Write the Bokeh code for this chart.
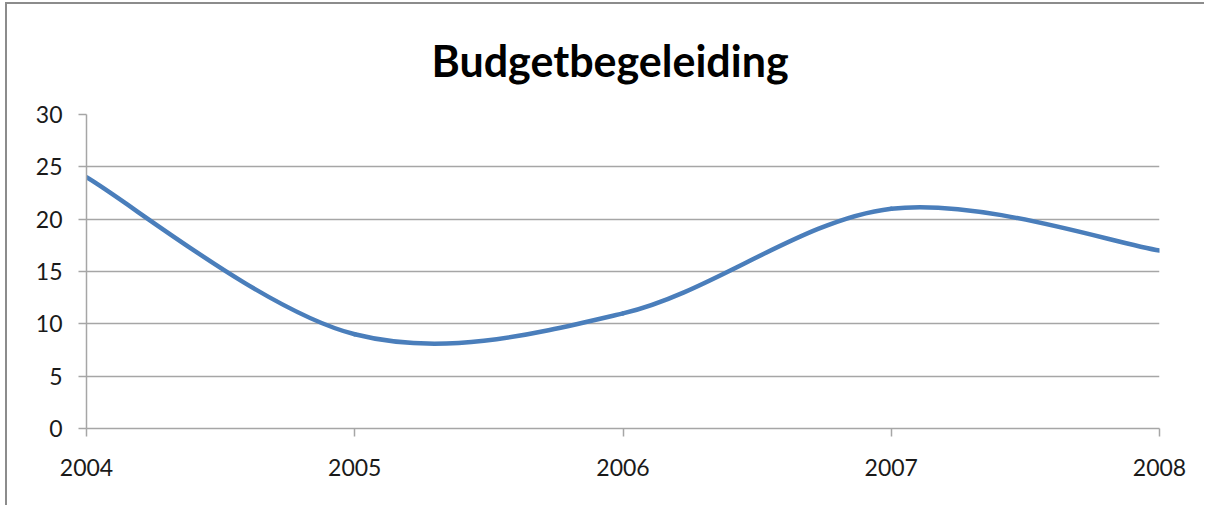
import numpy as np
from bokeh.plotting import figure
from bokeh.models import Range1d, FixedTicker
from bokeh.embed import file_html
from bokeh.resources import INLINE

# ---- data ----
years = [2004, 2005, 2006, 2007, 2008]
values = [24, 9, 11, 21, 17]
y_ticks = [0, 5, 10, 15, 20, 25, 30]
title_text = "Budgetbegeleiding"

FONT = "Lato"
GRID = "#a6a6a6"

FW, FH = 1073, 314
BL, BR, BT, BB = 79, 45, 108, 77

p = figure(
    frame_width=FW, frame_height=FH,
    min_border_left=BL, min_border_right=BR, min_border_top=BT, min_border_bottom=BB,
    x_range=Range1d(2004, 2008), y_range=Range1d(0, 30),
    output_backend="svg", toolbar_location=None,
)
p.styles = {"border-left": "2px solid #8c8c8c", "border-top": "2px solid #8c8c8c",
            "margin-left": "5px", "margin-top": "2px"}
p.outline_line_color = None
p.background_fill_color = "white"
p.border_fill_color = "white"

p.title.text = title_text
p.title.align = "left"
p.title.offset = 345
p.title.text_font = FONT
p.title.text_font_style = "bold"
p.title.text_font_size = "43px"
p.title.text_color = "black"
p.title.standoff = 57

# axes
p.xaxis.ticker = FixedTicker(ticks=years)
p.yaxis.ticker = FixedTicker(ticks=y_ticks)
for ax in (p.xaxis[0], p.yaxis[0]):
    ax.axis_line_color = GRID
    ax.axis_line_width = 1.5
    ax.major_tick_line_color = GRID
    ax.major_tick_line_width = 1.5
    ax.major_tick_out = 8
    ax.major_tick_in = 0
    ax.minor_tick_line_color = None
    ax.major_label_text_font = FONT
    ax.major_label_text_font_size = "23px"
    ax.major_label_text_color = "#1a1a1a"
p.xaxis.major_label_standoff = 22
p.yaxis.major_label_standoff = 16

p.xgrid.grid_line_color = None
p.ygrid.grid_line_color = GRID
p.ygrid.grid_line_width = 1.5

# smoothed line (Bezier segments with Catmull-Rom style control points)
x = np.array(years, dtype=float)
y = np.array(values, dtype=float)
n = len(x)
xp = np.concatenate([[x[0]], x, [x[-1]]])
yp = np.concatenate([[y[0]], y, [y[-1]]])
x0, y0 = x[:-1], y[:-1]
x1, y1 = x[1:], y[1:]
cx0 = x0 + (xp[2:n + 1] - xp[0:n - 1]) / 6
cy0 = y0 + (yp[2:n + 1] - yp[0:n - 1]) / 6
cx1 = x1 - (xp[3:n + 2] - xp[1:n]) / 6
cy1 = y1 - (yp[3:n + 2] - yp[1:n]) / 6
p.bezier(x0=x0, y0=y0, x1=x1, y1=y1, cx0=cx0, cy0=cy0, cx1=cx1, cy1=cy1,
         line_color="#4a7ebb", line_width=4.5, line_cap="round")

open("out.html", "w").write(file_html(p, INLINE))
